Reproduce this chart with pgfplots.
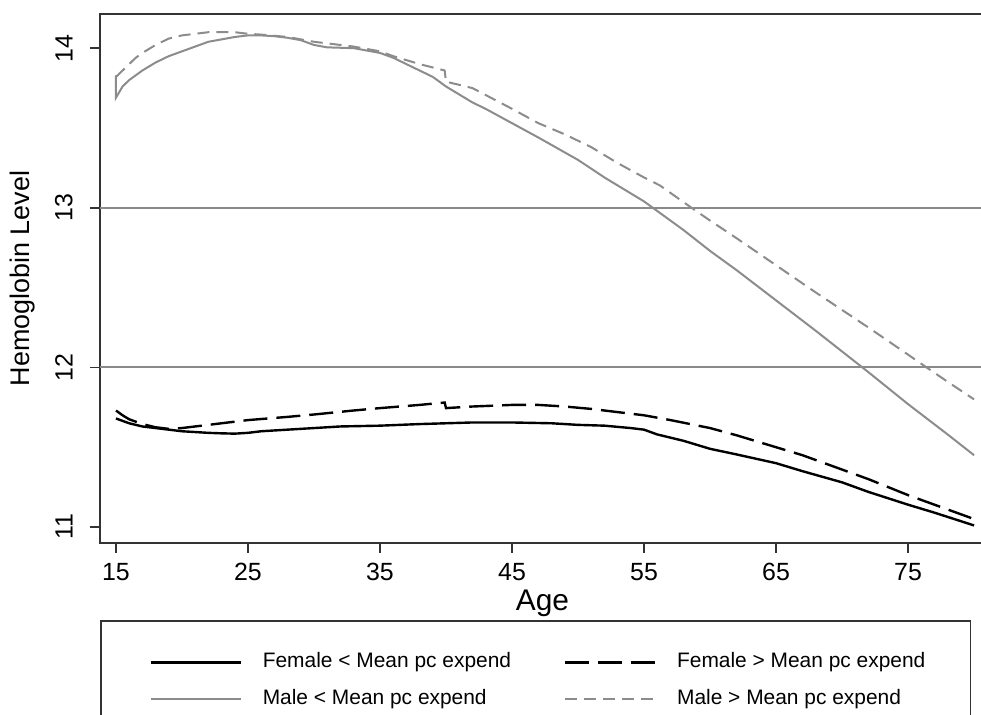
\documentclass[border=0pt]{standalone}
\usepackage{fontspec}
\setmainfont{Liberation Sans}
\usepackage{pgfplots}
\pgfplotsset{compat=1.18}
\definecolor{malegray}{HTML}{8C8C8C}
\definecolor{gridgray}{HTML}{8A8A8A}
\definecolor{framegray}{HTML}{333333}

\begin{document}
\begin{tikzpicture}
\begin{axis}[
  name=main,
  scale only axis,
  width=442.5bp, height=264.5bp,
  xmin=13.79, xmax=80.83, ymin=10.90, ymax=14.214,
  xtick={15,25,...,75}, ytick={11,12,13,14},
  xtick pos=bottom, ytick pos=left,
  axis line style={draw=framegray, line width=0.8bp},
  tick style={draw=framegray, line width=0.8bp},
  tick align=outside, major tick length=5bp,
  /pgf/number format/assume math mode=true,
  ticklabel style={font=\fontsize{12.5}{14}\selectfont, inner sep=0pt},
  yticklabel style={rotate=90, anchor=south},
  xticklabel style={anchor=north},
  xticklabel shift=5bp, yticklabel shift=8.5bp,
  extra y ticks={12,13}, extra y tick labels={},
  extra y tick style={ymajorgrids=true, major tick length=0pt,
    major grid style={draw=gridgray, line width=1bp}},
  xlabel={Age},
  xlabel style={font=\fontsize{15}{17}\selectfont, at={(axis description cs:0.5,0)},
    anchor=north, yshift=-23.5bp, inner sep=0pt},
  ylabel={Hemoglobin Level},
  ylabel style={font=\fontsize{13.5}{15}\selectfont,
    at={([xshift=-35bp]axis description cs:0,0.5)}, anchor=base, inner sep=0pt},
  legend columns=2,
  legend cell align=left,
  legend image code/.code={\path[draw=none] (-25bp,0bp) -- (56bp,0bp); \draw[#1] (0bp,0bp) -- (45bp,0bp);},
  legend style={at={(0,0)}, anchor=north west, yshift=-38.5bp,
    draw=framegray, line width=0.8bp, inner xsep=0pt, inner ysep=16bp,
    font=\fontsize{10.5}{12}\selectfont, row sep=8.5bp,
    nodes={inner sep=0pt, text height=7.6bp, text depth=2.3bp},
    /tikz/every even column/.append style={column sep=2bp}},
]
% Female < mean
\addplot[black, line width=1.2bp] coordinates {
(15,11.68) (15.5,11.665) (16,11.65) (17,11.63) (18,11.62) (19,11.61) (20,11.60)
(21,11.595) (22,11.59) (23,11.587) (24,11.585) (25,11.59) (26,11.60) (27,11.605)
(28,11.61) (30,11.62) (32,11.63) (35,11.635) (38,11.645) (40,11.65) (42,11.655)
(45,11.655) (48,11.65) (50,11.64) (52,11.635) (54,11.62) (55,11.61) (56,11.58)
(58,11.54) (60,11.49) (62,11.455) (65,11.40) (67,11.35) (70,11.28) (72,11.22)
(75,11.14) (77,11.09) (80,11.01)};
\addlegendentry{Female < Mean pc expend}
% Female > mean
\addplot[black, line width=1.2bp, dash pattern=on 12bp off 4.5bp] coordinates {
(15,11.73) (15.5,11.70) (16,11.675) (17,11.645) (18,11.625) (19,11.615) (20,11.62)
(22,11.64) (25,11.67) (28,11.69) (30,11.705) (33,11.73) (35,11.745) (38,11.765)
(39.9,11.78) (40,11.745) (42,11.755) (45,11.765) (47,11.765) (49,11.755) (51,11.74)
(53,11.72) (55,11.70) (57,11.67) (60,11.62) (62,11.575) (65,11.50) (67,11.45)
(70,11.36) (72,11.30) (75,11.20) (77,11.14) (80,11.05)};
\addlegendentry{Female > Mean pc expend\hspace{22.5bp}\null}
% Male < mean
\addplot[malegray, line width=1bp] coordinates {
(15,13.83) (15,13.69) (15.5,13.76) (16,13.80) (16.5,13.83) (17,13.86) (18,13.91)
(19,13.95) (20,13.98) (21,14.01) (22,14.04) (23,14.055) (24,14.07) (25,14.08)
(26,14.08) (27,14.075) (28,14.065) (29,14.05) (30,14.02) (31,14.005) (33,14.0)
(35,13.97) (36,13.94) (37,13.90) (38,13.86) (39,13.82) (40,13.76) (41,13.71)
(42,13.66) (43,13.62) (45,13.53) (47,13.44) (50,13.30) (52,13.19) (55,13.04)
(56,12.98) (58,12.86) (60,12.73) (62,12.61) (65,12.42) (68,12.23) (70,12.10)
(72,11.97) (75,11.77) (78,11.58) (80,11.45)};
\addlegendentry{Male < Mean pc expend}
% Male > mean
\addplot[malegray, line width=1bp, dash pattern=on 6bp off 3.5bp] coordinates {
(15,13.82) (15.5,13.86) (16,13.90) (16.5,13.94) (17,13.97) (18,14.02) (19,14.06)
(20,14.08) (21,14.09) (22,14.10) (24,14.10) (25,14.09) (26,14.085) (28,14.07)
(30,14.04) (31,14.03) (33,14.01) (35,13.98) (36,13.95) (38,13.90) (39.9,13.86)
(40,13.79) (42,13.75) (45,13.62) (47,13.53) (49,13.46) (51,13.38) (53,13.28)
(55,13.19) (56.2,13.14) (58.6,13.0) (60,12.92) (62,12.81) (65,12.64) (68,12.47)
(70,12.36) (72,12.25) (75,12.08) (76.4,12.0) (78,11.91) (80,11.80)};
\addlegendentry{Male > Mean pc expend\hspace{22.5bp}\null}
\end{axis}
\pgfresetboundingbox
\path[use as bounding box] ([xshift=-50bp,yshift=-86bp]main.south west)
  rectangle ([xshift=-2bp,yshift=7bp]main.north east);
\end{tikzpicture}
\end{document}
